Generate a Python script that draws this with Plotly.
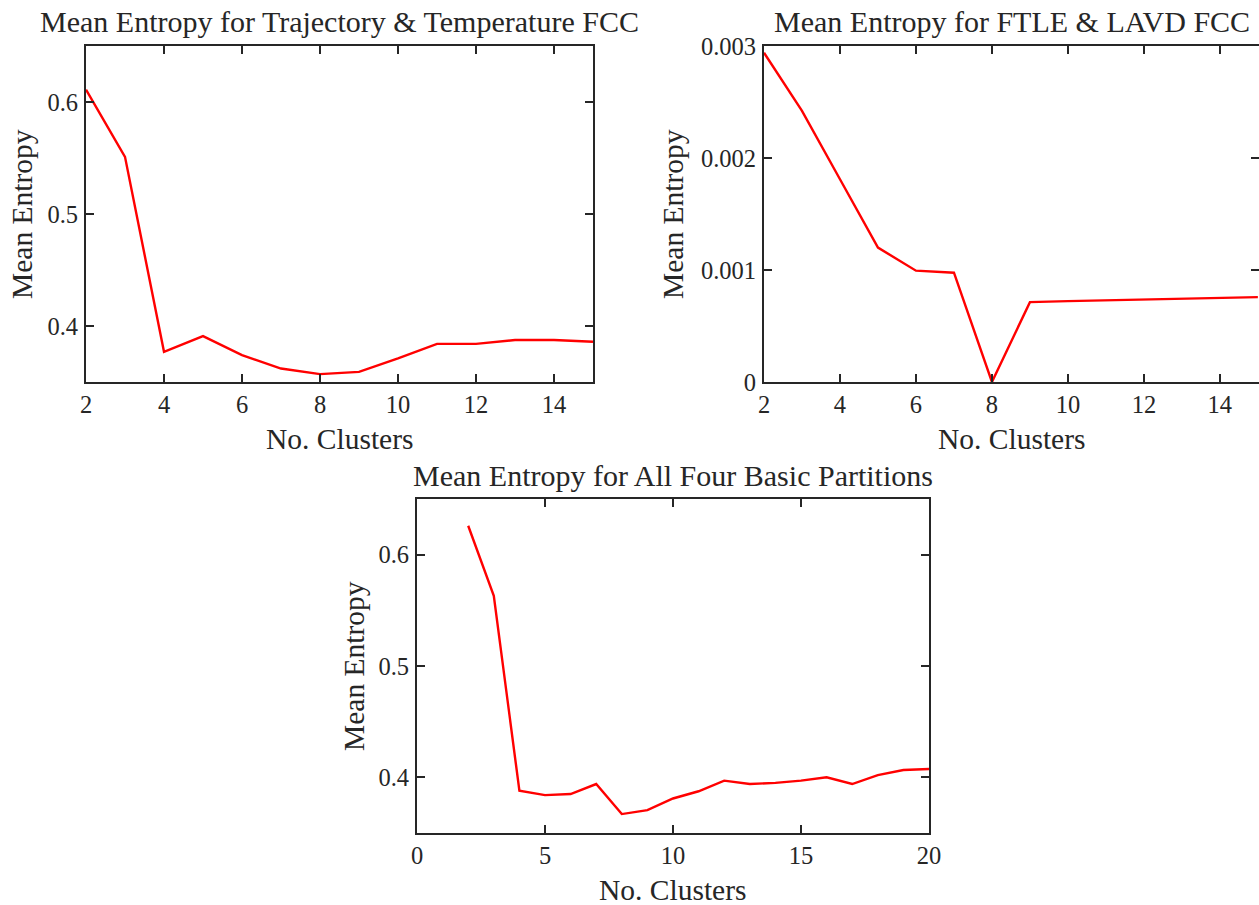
import plotly.graph_objects as go

W, H = 1259, 905

# ---- data ----
clusters_a = [2, 3, 4, 5, 6, 7, 8, 9, 10, 11, 12, 13, 14, 15]
entropy_traj_temp = [0.611, 0.551, 0.377, 0.391, 0.374, 0.362, 0.357, 0.359,
                     0.371, 0.384, 0.384, 0.3875, 0.3875, 0.386]

clusters_b = [2, 3, 4, 5, 6, 7, 8, 9, 10, 11, 12, 13, 14, 15]
entropy_ftle_lavd = [0.00294, 0.00242, 0.00181, 0.00120, 0.000994, 0.000976, 0.0,
                     0.000713, 0.000722, 0.000730, 0.000738, 0.000745, 0.000752, 0.000758]

clusters_c = [2, 3, 4, 5, 6, 7, 8, 9, 10, 11, 12, 13, 14, 15, 16, 17, 18, 19, 20]
entropy_all_four = [0.626, 0.563, 0.388, 0.384, 0.385, 0.394, 0.367, 0.3705, 0.381,
                    0.3875, 0.397, 0.394, 0.395, 0.397, 0.400, 0.394, 0.402, 0.4066, 0.4075]

titles = ["Mean Entropy for Trajectory &amp; Temperature FCC",
          "Mean Entropy for FTLE &amp; LAVD FCC",
          "Mean Entropy for All Four Basic Partitions"]
xlabel = "No. Clusters"
ylabel = "Mean Entropy"

xticks_a = [2, 4, 6, 8, 10, 12, 14]
yticks_a = [0.4, 0.5, 0.6]
ytext_a = ["0.4", "0.5", "0.6"]
xticks_b = [2, 4, 6, 8, 10, 12, 14]
yticks_b = [0, 0.001, 0.002, 0.003]
ytext_b = ["0", "0.001", "0.002", "0.003"]
xticks_c = [0, 5, 10, 15, 20]
yticks_c = [0.4, 0.5, 0.6]
ytext_c = ["0.4", "0.5", "0.6"]

# ---- layout (pixel boxes) ----
FONT = "Liberation Serif"
TXT = "#262626"
TICK_SIZE = 24.5
LABEL_SIZE = 29.5
TITLE_SIZE = 30

boxes = {
    "a": (86, 593, 46, 382),
    "b": (764, 1260, 46, 382),
    "c": (417, 929, 499, 833),
}

def dom(box):
    x0, x1, y0, y1 = box
    return [x0 / W, min(x1 / W, 1.0)], [1 - y1 / H, 1 - y0 / H]

fig = go.Figure()

specs = [
    ("a", "x", "y", clusters_a, entropy_traj_temp, [2, 15], [0.35, 0.65], xticks_a, yticks_a, ytext_a),
    ("b", "x2", "y2", clusters_b, entropy_ftle_lavd, [2, 15.03], [0, 0.003], xticks_b, yticks_b, ytext_b),
    ("c", "x3", "y3", clusters_c, entropy_all_four, [0, 20], [0.35, 0.65], xticks_c, yticks_c, ytext_c),
]

layout = dict(
    width=W, height=H,
    margin=dict(l=0, r=0, t=0, b=0, autoexpand=False),
    paper_bgcolor="white", plot_bgcolor="white",
    showlegend=False,
    font=dict(family=FONT, color=TXT, size=TICK_SIZE),
)

annotations = []
for i, (key, xa, ya, xs, ys, xr, yr, xt, yt, ytt) in enumerate(specs):
    fig.add_trace(go.Scatter(x=xs, y=ys, xaxis=xa, yaxis=ya, mode="lines",
                             line=dict(color="#FF0000", width=2.4),
                             cliponaxis=True, hoverinfo="skip"))
    xd, yd = dom(boxes[key])
    axcommon = dict(showline=True, linecolor=TXT, linewidth=2, mirror="allticks",
                    ticks="inside", ticklen=8, tickwidth=2, tickcolor=TXT,
                    showgrid=False, zeroline=False, automargin=False,
                    tickfont=dict(family=FONT, size=TICK_SIZE, color=TXT))
    xname = "xaxis" if xa == "x" else "xaxis" + xa[1:]
    yname = "yaxis" if ya == "y" else "yaxis" + ya[1:]
    layout[xname] = dict(domain=xd, range=xr, tickvals=xt, anchor=ya,
                         ticklabelstandoff=0, **axcommon)
    layout[yname] = dict(domain=yd, range=yr, tickvals=yt, ticktext=ytt, anchor=xa,
                         ticklabelstandoff=1, **axcommon)

    x0, x1, y0, y1 = boxes[key]
    cx = (x0 + x1) / 2
    # title
    annotations.append(dict(text=titles[i], x=cx / W, y=1 - (y0 - 24) / H,
                            xref="paper", yref="paper", showarrow=False,
                            xanchor="center", yanchor="middle",
                            font=dict(family=FONT, size=TITLE_SIZE, color=TXT)))
    # x label
    annotations.append(dict(text=xlabel, x=cx / W, y=1 - (y1 + 57) / H,
                            xref="paper", yref="paper", showarrow=False,
                            xanchor="center", yanchor="middle",
                            font=dict(family=FONT, size=LABEL_SIZE, color=TXT)))

ylabel_x = {"a": 22, "b": 673, "c": 354}
for key in ["a", "b", "c"]:
    x0, x1, y0, y1 = boxes[key]
    annotations.append(dict(text=ylabel, x=ylabel_x[key] / W, y=1 - ((y0 + y1) / 2) / H,
                            xref="paper", yref="paper", showarrow=False, textangle=-90,
                            xanchor="center", yanchor="middle",
                            font=dict(family=FONT, size=LABEL_SIZE, color=TXT)))

layout["annotations"] = annotations
fig.update_layout(**layout)
fig.write_html("out.html")
